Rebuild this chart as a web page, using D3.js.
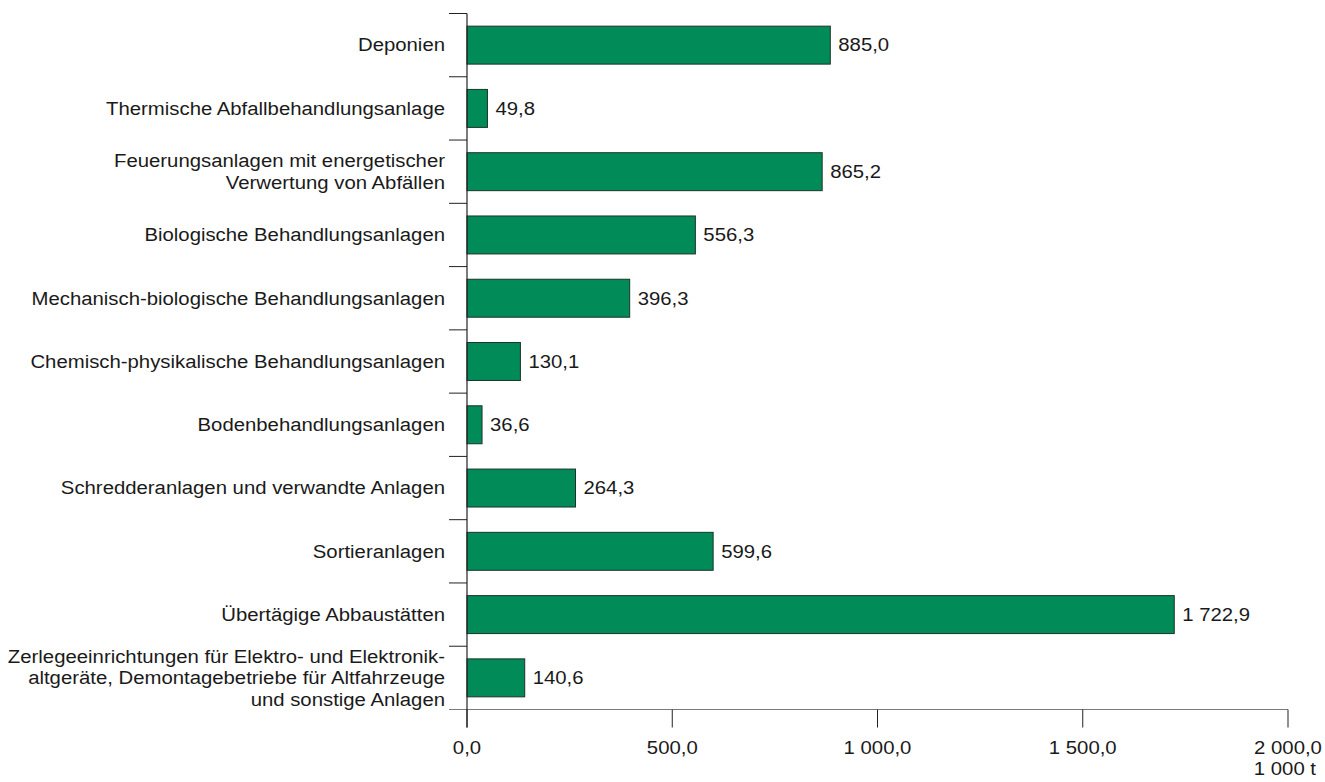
<!DOCTYPE html>
<html>
<head>
<meta charset="utf-8">
<script src="https://cdn.jsdelivr.net/npm/d3@7"></script>
<style>
  body { margin: 0; background: #fff; }
  text { font-family: "Liberation Sans", Arial, sans-serif; fill: #1a1a1a; }
</style>
</head>
<body>
<svg id="chart" width="1325" height="782"></svg>
<script>
// Waste treatment facilities: input quantities in 1 000 t
const categories = [
  ["Deponien"],
  ["Thermische Abfallbehandlungsanlage"],
  ["Feuerungsanlagen mit energetischer", "Verwertung von Abfällen"],
  ["Biologische Behandlungsanlagen"],
  ["Mechanisch-biologische Behandlungsanlagen"],
  ["Chemisch-physikalische Behandlungsanlagen"],
  ["Bodenbehandlungsanlagen"],
  ["Schredderanlagen und verwandte Anlagen"],
  ["Sortieranlagen"],
  ["Übertägige Abbaustätten"],
  ["Zerlegeeinrichtungen für Elektro- und Elektronik-", "altgeräte, Demontagebetriebe für Altfahrzeuge", "und sonstige Anlagen"]
];
const values = [885.0, 49.8, 865.2, 556.3, 396.3, 130.1, 36.6, 264.3, 599.6, 1722.9, 140.6];
const xTicks = [0, 500, 1000, 1500, 2000];
const unitLabel = "1 000 t";

const fmt = v => {
  const [i, d] = v.toFixed(1).split(".");
  return i.replace(/\B(?=(\d{3})+(?!\d))/g, " ") + "," + d;
};

const FS = 18;        // font size
const SX = 1.13;      // horizontal stretch of the lettering
const place = (px, py) => `translate(${px},${py}) scale(${SX},1)`;

const svg = d3.select("#chart");
const plotLeft = 467, plotRight = 1288, plotTop = 13.5, plotBottom = 709.5;

const x = d3.scaleLinear().domain([0, 2000]).range([plotLeft, plotRight]);
const y = d3.scaleBand().domain(d3.range(categories.length))
  .range([plotTop, plotBottom]).paddingInner(0.4).paddingOuter(0.2);
const bandStep = y.step();

// Category separators (ticks left of the axis)
const seps = d3.range(categories.length).map(i => plotTop + i * bandStep);
svg.append("g").selectAll("line").data(seps).join("line")
  .attr("x1", plotLeft - 18).attr("x2", plotLeft)
  .attr("y1", d => d).attr("y2", d => d)
  .attr("stroke", "#222").attr("stroke-width", 1);

// Bars
svg.append("g").selectAll("rect").data(values).join("rect")
  .attr("x", x(0))
  .attr("y", (d, i) => y(i))
  .attr("width", d => x(d) - x(0))
  .attr("height", y.bandwidth())
  .attr("fill", "#008b58")
  .attr("stroke", "#1d3327")
  .attr("stroke-width", 1);

// Value labels
svg.append("g").selectAll("text").data(values).join("text")
  .attr("transform", (d, i) => place(x(d) + 8, y(i) + y.bandwidth() / 2))
  .attr("dy", "0.35em")
  .attr("font-size", FS)
  .text(d => fmt(d));

// Category labels
const labelX = plotLeft - 22;
const lab = svg.append("g").selectAll("text").data(categories).join("text")
  .attr("text-anchor", "end")
  .attr("font-size", FS)
  .attr("transform", (d, i) => place(labelX, y(i) + y.bandwidth() / 2));
lab.each(function(lines) {
  const lh = 21.5;
  const t = d3.select(this);
  lines.forEach((l, k) => {
    t.append("tspan")
      .attr("x", 0)
      .attr("dy", k === 0 ? (0.35 * FS - (lines.length - 1) * lh / 2) : lh)
      .text(l);
  });
});

// X axis baseline
svg.append("line")
  .attr("x1", plotLeft - 18).attr("x2", plotRight)
  .attr("y1", plotBottom).attr("y2", plotBottom)
  .attr("stroke", "#7a7a7a").attr("stroke-width", 1.2);

// X ticks and labels
const xg = svg.append("g");
xg.selectAll("line").data(xTicks).join("line")
  .attr("x1", d => x(d)).attr("x2", d => x(d))
  .attr("y1", plotBottom).attr("y2", plotBottom + 18)
  .attr("stroke", "#222");
xg.selectAll("text").data(xTicks).join("text")
  .attr("transform", d => place(x(d), 748))
  .attr("dy", "0.35em")
  .attr("text-anchor", "middle")
  .attr("font-size", FS)
  .text(d => fmt(d));
svg.append("text")
  .attr("transform", place(1316, 769))
  .attr("dy", "0.35em")
  .attr("text-anchor", "end").attr("font-size", FS)
  .text(unitLabel);

// Y axis line
svg.append("line")
  .attr("x1", plotLeft).attr("x2", plotLeft)
  .attr("y1", plotTop).attr("y2", plotBottom + 18)
  .attr("stroke", "#222").attr("stroke-width", 1.2);
</script>
</body>
</html>
